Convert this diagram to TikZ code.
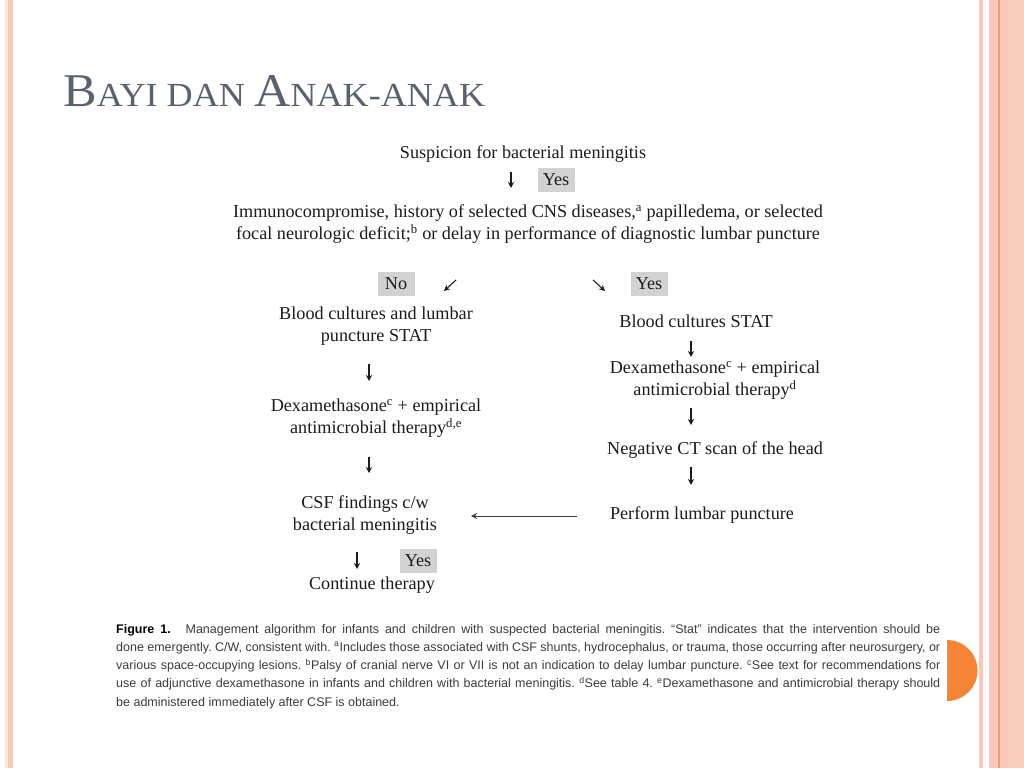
\documentclass[tikz,border=0pt]{standalone}
\usepackage{fontspec}
\setmainfont{Liberation Serif}
\newfontfamily\capfont{Liberation Sans}
\usetikzlibrary{arrows.meta}
\definecolor{stripe}{RGB}{250,200,182}
\definecolor{stripepale}{RGB}{252,230,218}
\definecolor{stripedark}{RGB}{230,158,126}
\definecolor{titlecol}{RGB}{89,98,112}
\definecolor{boxgray}{RGB}{210,210,210}
\definecolor{dot}{RGB}{246,132,54}
\definecolor{ink}{RGB}{28,28,28}
\definecolor{capink}{RGB}{60,60,60}
\begin{document}
\begin{tikzpicture}[x=1pt,y=-1pt,
 flow/.style={font=\fontsize{18.2}{22}\selectfont, text=ink, align=center, inner sep=0pt},
 tag/.style={fill=boxgray, minimum width=37pt, minimum height=24pt, inner sep=0pt, font=\fontsize{18.2}{22}\selectfont, text=ink},
 arr/.style={-{Stealth[length=6pt,width=6pt]}, line width=1.1pt, draw=ink},
 capline/.style={anchor=base west, inner sep=0pt, font=\capfont\fontsize{12.5}{14}\selectfont\frenchspacing, text=capink}]
\useasboundingbox (0,0) rectangle (1024,768);
\fill[white] (0,0) rectangle (1024,768);
% borders
\fill[stripepale] (5,0) rectangle (8,768);
\fill[stripe] (8,0) rectangle (12.5,768);
\fill[stripe] (979,0) rectangle (983,768);
\fill[stripe] (989,0) rectangle (1024,768);
\fill[stripedark] (998,0) rectangle (999.5,768);
\fill[stripe!90!white] (1008,0) rectangle (1024,768);
% orange half disc
\begin{scope}
\clip (947,600) rectangle (1000,740);
\fill[dot] (947,670.5) circle (30.5);
\end{scope}
% title
\node[anchor=base west, inner sep=0pt, text=titlecol] (title) at (63,106)
 {\resizebox{422pt}{31pt}{\fontsize{46}{46}\selectfont B\fontsize{33}{33}\selectfont AYI DAN \fontsize{46}{46}\selectfont A\fontsize{33}{33}\selectfont NAK-ANAK}};
% flowchart
\node[flow] (susp) at (523,154) {Suspicion for bacterial meningitis};
\node[tag] (yes1) at (556,180) {Yes};
\node[flow] (immuno) at (528,224) {Immunocompromise, history of selected CNS diseases,\textsuperscript{a} papilledema, or selected\\ focal neurologic deficit;\textsuperscript{b} or delay in performance of diagnostic lumbar puncture};
\node[tag] (no2) at (396,284) {No};
\node[tag] (yes2) at (649,284) {Yes};
\node[flow] (bcl) at (376,326) {Blood cultures and lumbar\\ puncture STAT};
\node[flow] (bcr) at (696,321) {Blood cultures STAT};
\node[flow] (dexl) at (376,418) {Dexamethasone\textsuperscript{c} + empirical\\ antimicrobial therapy\textsuperscript{d,e}};
\node[flow] (dexr) at (715,380) {Dexamethasone\textsuperscript{c} + empirical\\ antimicrobial therapy\textsuperscript{d}};
\node[flow] (ct) at (715,450) {Negative CT scan of the head};
\node[flow] (csf) at (365,515) {CSF findings c/w\\ bacterial meningitis};
\node[flow] (lp) at (702,515) {Perform lumbar puncture};
\node[tag] (yes3) at (418,561) {Yes};
\node[flow] (cont) at (372,585) {Continue therapy};
% arrow ends
\coordinate (a1s) at (511,172); \coordinate (a1e) at (511,188);
\coordinate (dls) at (456,280); \coordinate (dle) at (444,291);
\coordinate (drs) at (593,280); \coordinate (dre) at (605,291);
\coordinate (l1s) at (369,364); \coordinate (l1e) at (369,381);
\coordinate (l2s) at (369,457); \coordinate (l2e) at (369,473);
\coordinate (l3s) at (357,552); \coordinate (l3e) at (357,569);
\coordinate (r1s) at (691,341); \coordinate (r1e) at (691,357);
\coordinate (r2s) at (691,408); \coordinate (r2e) at (691,425);
\coordinate (r3s) at (691,467); \coordinate (r3e) at (691,485);
\coordinate (hs) at (577,516); \coordinate (he) at (471,516);
\foreach \s/\e in {a1s/a1e,dls/dle,drs/dre,l1s/l1e,l2s/l2e,l3s/l3e,r1s/r1e,r2s/r2e,r3s/r3e}
  \draw[arr] (\s) -- (\e);
\draw[arr, line width=1pt, draw=ink!85] (hs) -- (he);
% caption
\node[capline] (c1) at (116,633) {\makebox[824pt][s]{\textbf{\color{black}Figure 1.}\hspace{9pt} Management algorithm for infants and children with suspected bacterial meningitis. “Stat” indicates that the intervention should be}};
\node[capline] (c2) at (116,651.3) {\makebox[824pt][s]{done emergently. C/W, consistent with. \textsuperscript{a}Includes those associated with CSF shunts, hydrocephalus, or trauma, those occurring after neurosurgery, or}};
\node[capline] (c3) at (116,669.6) {\makebox[824pt][s]{various space-occupying lesions. \textsuperscript{b}Palsy of cranial nerve VI or VII is not an indication to delay lumbar puncture. \textsuperscript{c}See text for recommendations for}};
\node[capline] (c4) at (116,687.9) {\makebox[824pt][s]{use of adjunctive dexamethasone in infants and children with bacterial meningitis. \textsuperscript{d}See table 4. \textsuperscript{e}Dexamethasone and antimicrobial therapy should}};
\node[capline] (c5) at (116,706.2) {be administered immediately after CSF is obtained.};
\end{tikzpicture}
\end{document}
